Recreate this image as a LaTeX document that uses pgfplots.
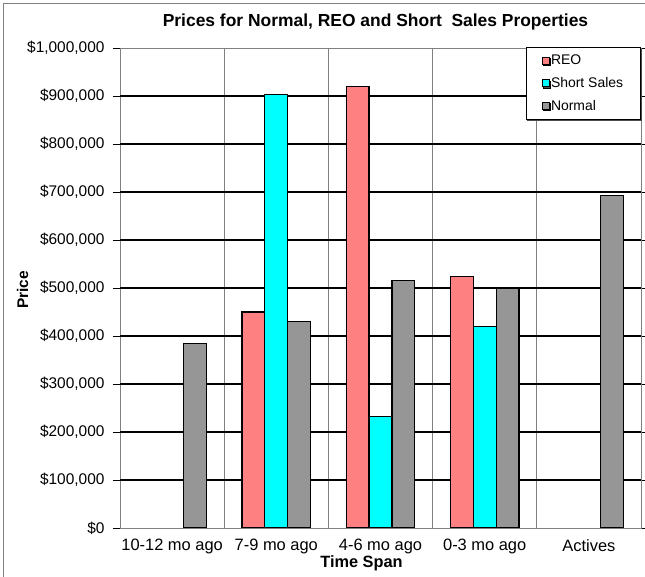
\documentclass[border=0pt]{standalone}
\usepackage{pgfplots}
\pgfplotsset{compat=1.18}
\usepackage{fontspec}
\setmainfont{Liberation Sans}
\usetikzlibrary{shadows}
\definecolor{reo}{HTML}{FF8080}
\definecolor{short}{HTML}{00FFFF}
\definecolor{normal}{HTML}{969696}
\definecolor{gridgray}{HTML}{808080}
\begin{document}
\begin{tikzpicture}[x=1bp,y=1bp]
\useasboundingbox (0,0) rectangle (645,577);
\draw[gridgray, line width=0.8bp] (3.5,0) -- (3.5,574) -- (645,574);
\begin{axis}[
  at={(120bp,49bp)}, anchor=south west,
  scale only axis, width=521bp, height=480bp,
  xmin=-0.5, xmax=4.5, ymin=0, ymax=1000000,
  ybar=0pt, bar width=0.22,
  axis line style={gridgray, line width=0.8bp},
  xtick={0,1,2,3,4},
  xticklabels={10-12 mo ago, 7-9 mo ago, 4-6 mo ago, 0-3 mo ago, Actives},
  x tick style={draw=none},
  minor xtick={-0.5,0.5,1.5,2.5,3.5,4.5},
  xminorgrids, minor x grid style={gridgray, line width=0.8bp},
  minor x tick style={gridgray, line width=0.8bp},
  minor tick length=5bp,
  tick align=outside,
  major tick length=7bp,
  ytick={0,100000,...,1000000},
  yticklabels={{\$0},{\$100,000},{\$200,000},{\$300,000},{\$400,000},{\$500,000},{\$600,000},{\$700,000},{\$800,000},{\$900,000},{\$1,000,000}},
  y tick style={black, line width=0.8bp},
  extra y ticks={100000,200000,...,900000},
  extra y tick labels={},
  extra y tick style={grid=major, major grid style={black, line width=1.5bp}, tick style={draw=none}},
  xticklabel style={font=\fontsize{16.5}{19}\selectfont, yshift=-1bp},
  yticklabel style={font=\fontsize{15.5}{18}\selectfont, xshift=-5bp},
  scaled y ticks=false,
  legend cell align=left,
  legend style={at={(1,1)}, anchor=north east, yshift=1.3bp, xshift=0bp,
    draw=black, line width=0.8bp, fill=white,
    drop shadow={shadow xshift=1.5bp, shadow yshift=-1.5bp, fill=black!70, opacity=1},
    font=\fontsize{14}{16}\selectfont, row sep=8bp, inner xsep=16bp, inner ysep=6.5bp,
    nodes={inner sep=1.5bp}},
  legend image code/.code={\draw[#1, draw=black, line width=0.6bp] (0bp,-3.5bp) rectangle (7bp,3.5bp);},
]
\addplot[fill=reo, draw=black, line width=1.2bp, bar shift=-0.22] coordinates {(1,450000) (2,920000) (3,524000)};
\addplot[fill=short, draw=black, line width=1.2bp, bar shift=0] coordinates {(1,903000) (2,232000) (3,420000)};
\addplot[fill=normal, draw=black, line width=1.2bp, bar shift=0.22] coordinates {(0,385000) (1,430000) (2,516000) (3,499000) (4,693000)};
\legend{REO, Short Sales, Normal}
\end{axis}
\node[font=\bfseries\fontsize{17.5}{20}\selectfont] at (375.5,555) {Prices for Normal, REO and Short\ \ Sales Properties};
\node[font=\bfseries\fontsize{16.4}{19}\selectfont] at (361.5,14) {Time Span};
\node[font=\bfseries\fontsize{15.5}{18}\selectfont, rotate=90] at (22.5,287) {Price};
\end{tikzpicture}
\end{document}
